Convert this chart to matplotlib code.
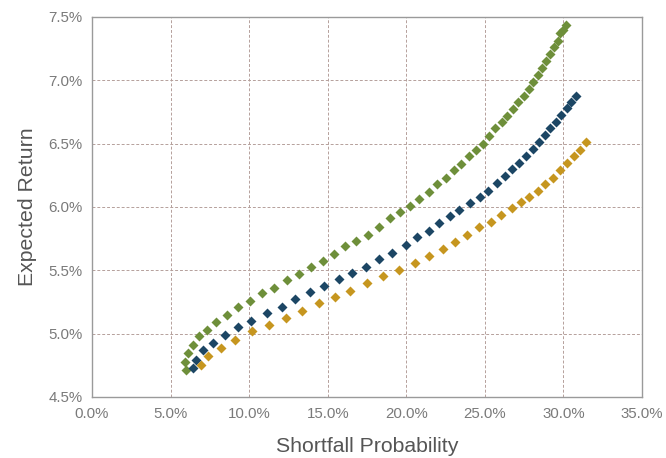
import matplotlib
matplotlib.use("Agg")
import matplotlib.pyplot as plt
from matplotlib.ticker import FuncFormatter, MultipleLocator

plt.rcParams['font.family'] = ['Liberation Sans', 'DejaVu Sans']

green_x = [5.96, 5.92, 6.13, 6.40, 6.83, 7.30, 7.89, 8.57, 9.27, 10.03, 10.84, 11.60, 12.39,
           13.20, 13.94, 14.68, 15.38, 16.11, 16.82, 17.59, 18.27, 18.97, 19.63, 20.24, 20.84,
           21.43, 21.98, 22.53, 23.02, 23.51, 23.98, 24.44, 24.87, 25.27, 25.65, 26.06, 26.44,
           26.78, 27.14, 27.48, 27.78, 28.07, 28.39, 28.65, 28.92, 29.15, 29.41, 29.64, 29.81,
           29.98, 30.15]
green_y = [4.71, 4.78, 4.85, 4.91, 4.98, 5.03, 5.09, 5.15, 5.21, 5.26, 5.32, 5.36, 5.42,
           5.47, 5.53, 5.57, 5.63, 5.69, 5.735, 5.78, 5.84, 5.91, 5.96, 6.01, 6.06,
           6.12, 6.18, 6.23, 6.29, 6.34, 6.40, 6.45, 6.50, 6.56, 6.62, 6.67, 6.72,
           6.77, 6.83, 6.88, 6.93, 6.99, 7.04, 7.10, 7.15, 7.21, 7.26, 7.31, 7.37,
           7.40, 7.44]

blue_x = [6.45, 6.64, 7.06, 7.70, 8.47, 9.27, 10.14, 11.12, 12.07, 12.94, 13.88, 14.79, 15.70,
          16.57, 17.44, 18.29, 19.10, 19.95, 20.71, 21.43, 22.11, 22.75, 23.38, 24.06, 24.70,
          25.23, 25.76, 26.25, 26.73, 27.18, 27.61, 28.04, 28.47, 28.83, 29.16, 29.52, 29.84,
          30.21, 30.49, 30.81]
blue_y = [4.73, 4.79, 4.87, 4.93, 4.99, 5.05, 5.10, 5.16, 5.21, 5.27, 5.33, 5.38, 5.43,
          5.48, 5.53, 5.59, 5.64, 5.70, 5.76, 5.81, 5.87, 5.93, 5.98, 6.03, 6.08,
          6.13, 6.19, 6.245, 6.30, 6.35, 6.40, 6.455, 6.51, 6.565, 6.62, 6.67, 6.73,
          6.78, 6.83, 6.88]

gold_x = [6.92, 7.40, 8.20, 9.10, 10.20, 11.29, 12.33, 13.37, 14.43, 15.45, 16.44, 17.50,
          18.52, 19.54, 20.56, 21.47, 22.36, 23.11, 23.89, 24.65, 25.38, 26.05, 26.70,
          27.27, 27.84, 28.37, 28.84, 29.31, 29.80, 30.22, 30.68, 31.05, 31.45]
gold_y = [4.75, 4.82, 4.89, 4.95, 5.02, 5.07, 5.12, 5.18, 5.24, 5.29, 5.34, 5.40,
          5.455, 5.50, 5.555, 5.61, 5.67, 5.72, 5.78, 5.84, 5.885, 5.935, 5.99,
          6.04, 6.08, 6.13, 6.18, 6.23, 6.29, 6.345, 6.40, 6.45, 6.51]

fig = plt.figure(figsize=(6.66, 4.58), dpi=100)
ax = fig.add_axes([92/666, 1-397/458, (642-92)/666, (397-17)/458])

ms = 5.4
ax.plot(green_x, green_y, 'D', color='#6E8F3A', ms=ms, mec='none', zorder=3)
ax.plot(blue_x, blue_y, 'D', color='#1C4664', ms=ms, mec='none', zorder=3)
ax.plot(gold_x, gold_y, 'D', color='#C6961F', ms=ms, mec='none', zorder=3)

ax.set_xlim(0, 35)
ax.set_ylim(4.5, 7.5)
ax.xaxis.set_major_locator(MultipleLocator(5))
ax.yaxis.set_major_locator(MultipleLocator(0.5))
ax.xaxis.set_major_formatter(FuncFormatter(lambda v, p: f"{v:.1f}%"))
ax.yaxis.set_major_formatter(FuncFormatter(lambda v, p: f"{v:.1f}%"))

ax.grid(True, color='#B5A09B', linestyle=(0, (3, 2)), linewidth=0.7)
ax.set_axisbelow(True)
for s in ax.spines.values():
    s.set_color('#9A9A9A')
    s.set_linewidth(1.0)

ax.tick_params(length=0, labelsize=10.8, colors='#7A7A7A', pad=7)
ax.set_xlabel('Shortfall Probability', fontsize=15.3, color='#555555', labelpad=12)
ax.set_ylabel('Expected Return', fontsize=15.3, color='#555555', labelpad=8)

fig.savefig('out.png', dpi=100)
